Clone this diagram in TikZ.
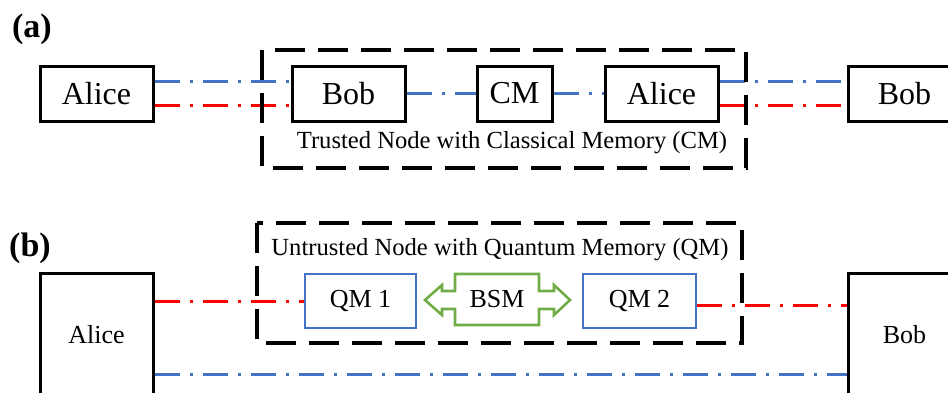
\documentclass[tikz,border=0pt]{standalone}
\usepackage{fontspec}
\setmainfont{Liberation Serif}
\newfontfamily\tnr{Liberation Serif}
\definecolor{qblue}{RGB}{68,114,196}
\definecolor{qred}{RGB}{255,0,0}
\definecolor{qgreen}{RGB}{112,173,71}

\begin{document}
\begin{tikzpicture}[x=0.5pt, y=-0.5pt,
	party/.style={draw, line width=1.5pt, inner sep=0pt, minimum width=56.5pt, minimum height=27.5pt, font=\tnr\fontsize{16}{18}\selectfont},
	memory/.style={draw=qblue, line width=1.3pt, inner sep=0pt, minimum height=27pt, font=\tnr\fontsize{13}{15}\selectfont},
	fiber/.style={line width=1.5pt, dash pattern=on 12.5pt off 5pt on 1.5pt off 5pt},
	nodebox/.style={line width=1.9pt, dash pattern=on 15pt off 6.5pt},
	caption/.style={font=\tnr\fontsize{12.3}{14}\selectfont},
	panel/.style={font=\tnr\bfseries\fontsize{17}{20}\selectfont}]

		\useasboundingbox (0,0) rectangle (948,392);
		\clip (0,0) rectangle (948,392);

		% panel (a)
		\node[panel] (labA) at (32,29) {(a)};
		\node[party] (aliceA) at (96.5,93.5) {Alice};
		\node[party] (bobA) at (348.5,93.5) {Bob};
		\node[party, minimum width=37.5pt] (cm) at (514.5,93.5) {CM};
		\node[party] (aliceB) at (661.5,93.5) {Alice};
		\node[party] (bobB) at (904.5,93.5) {Bob};

		% fibers (a)
		\draw[fiber, qblue] ([yshift=6.25pt]aliceA.east) -- ([yshift=6.25pt]bobA.west);
		\draw[fiber, qred] ([yshift=-5.75pt]aliceA.east) -- ([yshift=-5.75pt]bobA.west);
		\draw[fiber, qblue] (bobA) -- (cm);
		\draw[fiber, qblue] (cm) -- (aliceB);
		\draw[fiber, qblue] ([yshift=6.25pt]aliceB.east) -- ([yshift=6.25pt]bobB.west);
		\draw[fiber, qred] ([yshift=-5.75pt]aliceB.east) -- ([yshift=-5.75pt]bobB.west);

		% trusted node
		\draw[nodebox] (262,50) rectangle (746,168);
		\node[caption] (capA) at (512,143) {Trusted Node with Classical Memory (CM)};

		% panel (b)
		\node[panel] (labB) at (30,248) {(b)};
		\node[party, minimum height=62pt, font=\tnr\fontsize{13}{15}\selectfont] (aliceC) at (96.5,335) {Alice};
		\node[party, minimum height=62pt, font=\tnr\fontsize{13}{15}\selectfont] (bobC) at (904.5,335) {Bob};
		\node[memory, minimum width=55.5pt] (qm1) at (360.5,301) {QM 1};
		\node[memory, minimum width=56.5pt] (qm2) at (639.5,301) {QM 2};
		\node[inner sep=0pt, font=\tnr\fontsize{13}{15}\selectfont] (bsm) at (497,299.5) {BSM};
		\draw[qgreen, line width=1.3pt] (455,274) -- (539,274) -- (539,291) -- (554,291) -- (554,285) -- (570,300)
			-- (554,315) -- (554,309) -- (539,309) -- (539,325) -- (455,325) -- (455,309) -- (442,309)
			-- (442,315) -- (425,300) -- (442,285) -- (442,291) -- (455,291) -- cycle;

		% fibers (b)
		\draw[fiber, qred] (aliceC.east |- qm1.west) -- (qm1.west);
		\draw[fiber, qred] ([yshift=-2pt]qm2.east) -- ([yshift=-2pt]qm2.east -| bobC.west);
		\draw[fiber, qblue] ([yshift=-19.5pt]aliceC.east) -- ([yshift=-19.5pt]bobC.west);

		% untrusted node
		\draw[nodebox] (257,223) rectangle (742,343);
		\node[caption] (capB) at (500,250) {Untrusted Node with Quantum Memory (QM)};

	\end{tikzpicture}
\end{document}
